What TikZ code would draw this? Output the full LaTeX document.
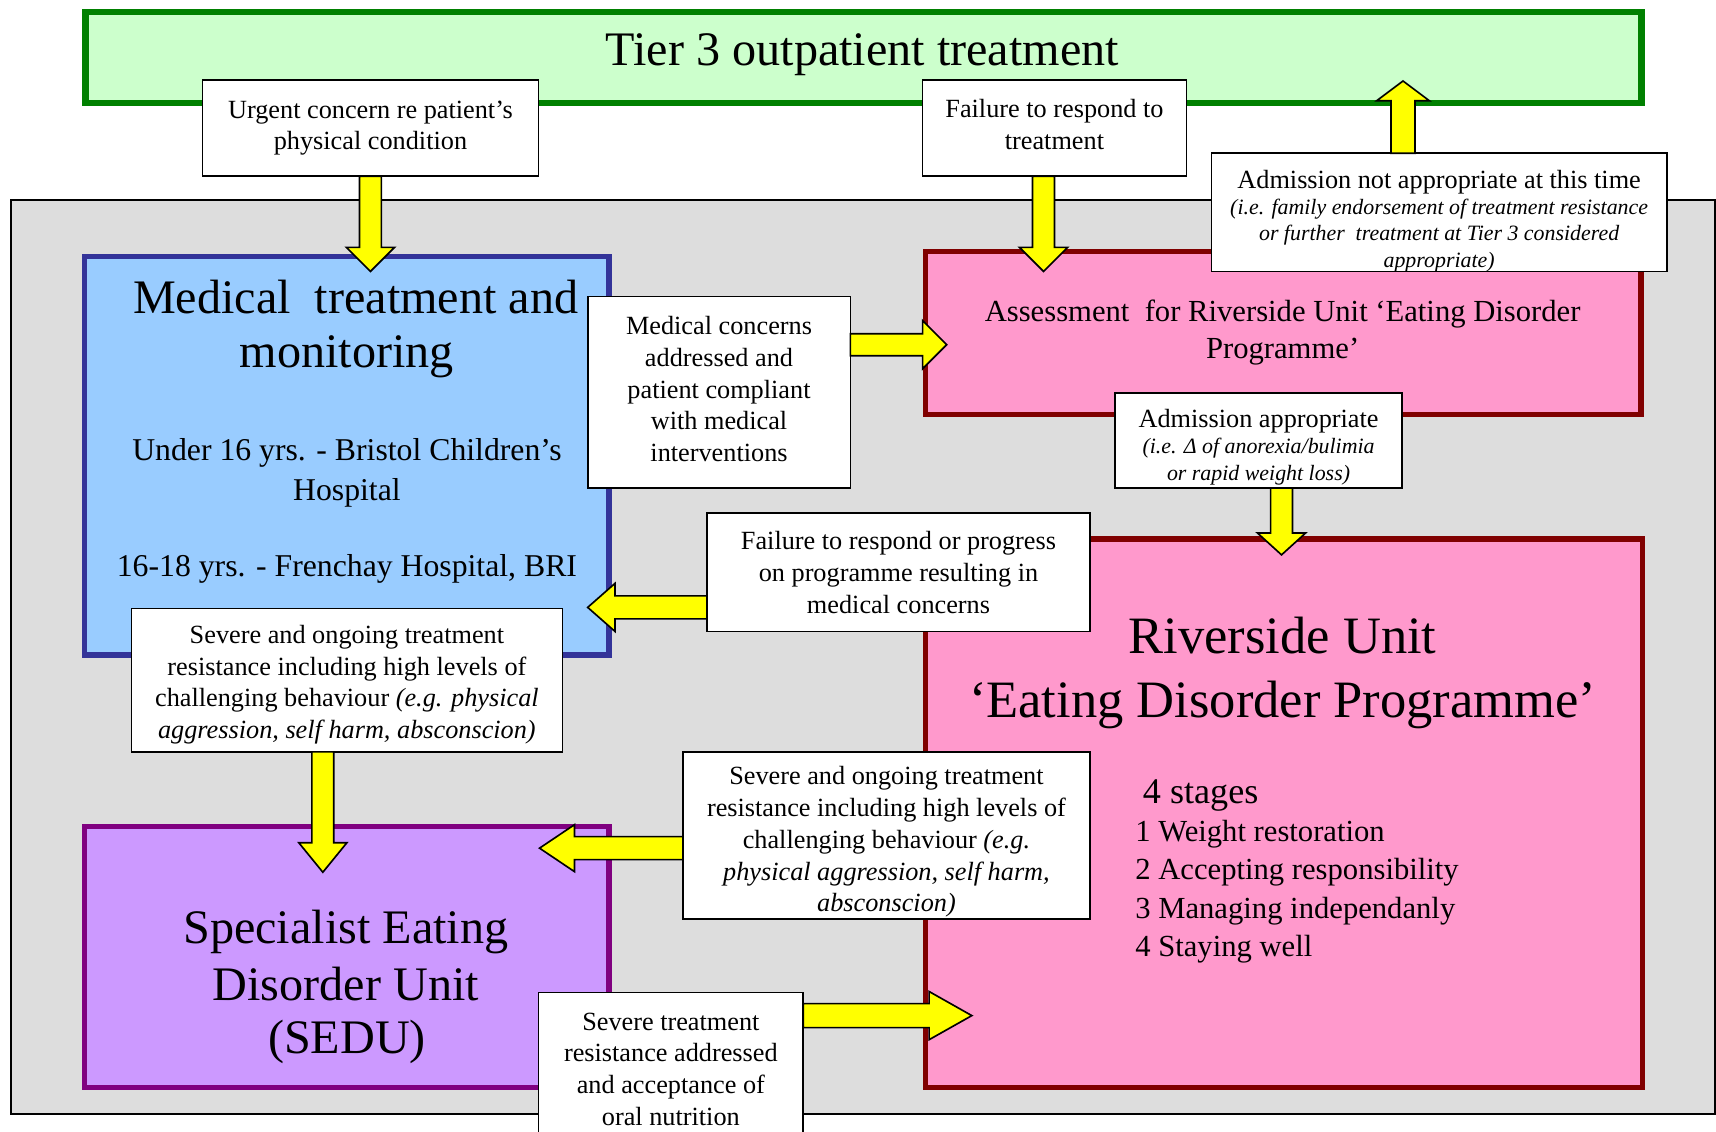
\documentclass[tikz,border=0pt]{standalone}
\usepackage{fontspec}
\setmainfont{Liberation Serif}
\usetikzlibrary{fit,calc}
\definecolor{tiergreen}{HTML}{CCFFCC}
\definecolor{tierborder}{HTML}{008000}
\definecolor{bggray}{HTML}{DDDDDD}
\definecolor{medblue}{HTML}{99CCFF}
\definecolor{medborder}{HTML}{333399}
\definecolor{rpink}{HTML}{FF99CC}
\definecolor{rborder}{HTML}{800000}
\definecolor{spurple}{HTML}{CC99FF}
\definecolor{sborder}{HTML}{800080}
\definecolor{ayellow}{HTML}{FFFF00}
\newcommand\fs[2]{\fontsize{#1}{#2}\selectfont}
\newcommand\itl{\fontsize{10}{12}\selectfont\itshape}
\newcommand\blockarrow[6]{% start, rotation, length, shaft half, head half, head length
  \begin{scope}[shift={#1},rotate=#2]
    \draw[yarrow] (0,-#4) -- ({#3-#6},-#4) -- ({#3-#6},-#5) -- (#3,0) -- ({#3-#6},#5) -- ({#3-#6},#4) -- (0,#4) -- cycle;
  \end{scope}}
\begin{document}
\begin{tikzpicture}[x=0.5pt,y=-0.5pt,
  bigbox/.style={inner sep=0pt, outer sep=0pt, line width=2.4pt},
  wbox/.style={draw=black, fill=white, line width=0.75pt, inner sep=0pt, outer sep=0pt},
  wtext/.style={inner sep=0pt, align=center, font=\fs{12}{14.5}},
  yarrow/.style={draw=black, fill=ayellow, line width=0.75pt, line join=miter},
  ttl/.style={anchor=base, inner sep=0pt, font=\fs{22}{26}},
  mid/.style={anchor=base, inner sep=0pt, font=\fs{14.5}{17}},
  big/.style={anchor=base, inner sep=0pt, font=\fs{24}{30}},
  stg/.style={anchor=base west, inner sep=0pt, font=\fs{14}{17}}]
\useasboundingbox (0,0) rectangle (1568,1034);
% background panels
\node[fit={(78,11) (1500,94)}, bigbox, line width=3pt, draw=tierborder, fill=tiergreen] (tier) {};
\node[ttl] (tiert) at (788,60) {Tier 3 outpatient treatment};
\node[fit={(10,183) (1567,1018)}, inner sep=0pt, draw=black, line width=0.75pt, fill=bggray] (bg) {};
% medical
\node[fit={(77.5,234.5) (556.5,598.5)}, bigbox, draw=medborder, fill=medblue] (med) {};
\node[ttl] (medt1) at (325,286) {Medical\ \ treatment and};
\node[ttl] (medt2) at (317,336) {monitoring};
\node[mid] (medt3) at (317,421) {Under 16 yrs. - Bristol Children’s};
\node[mid] (medt4) at (317,457) {Hospital};
\node[mid] (medt5) at (317,527) {16-18 yrs. - Frenchay Hospital, BRI};
% assessment
\node[fit={(845.5,229.5) (1499.5,378.5)}, bigbox, draw=rborder, fill=rpink] (assess) {};
\node[anchor=base, inner sep=0pt, font=\fs{14}{17}] (asst1) at (1172,294) {Assessment\ \ for Riverside Unit ‘Eating Disorder};
\node[anchor=base, inner sep=0pt, font=\fs{14}{17}] (asst2) at (1172,328) {Programme’};
% riverside
\node[fit={(845.5,492.5) (1500.5,993.5)}, bigbox, draw=rborder, fill=rpink] (river) {};
\node[big] (rivt1) at (1172,597) {Riverside Unit};
\node[big] (rivt2) at (1172,656) {‘Eating Disorder Programme’};
\node[anchor=base west, inner sep=0pt, font=\fs{16.5}{19}] (stg0) at (1044,734) {4 stages};
\node[stg] (stg1) at (1037,769) {1 Weight restoration};
\node[stg] (stg2) at (1037,804) {2 Accepting responsibility};
\node[stg] (stg3) at (1037,839) {3 Managing independanly};
\node[stg] (stg4) at (1037,874) {4 Staying well};
% sedu
\node[fit={(77.5,755.5) (556.5,993.5)}, bigbox, draw=sborder, fill=spurple] (sedu) {};
\node[ttl] (sedut1) at (316,862) {Specialist Eating};
\node[ttl] (sedut2) at (316,914) {Disorder Unit};
\node[ttl] (sedut3) at (317,963) {(SEDU)};
% white label boxes
\node[wbox, fit={(185,73) (492,161)}] (urg) {};
\node[wtext] (urgt) at (urg.center) {Urgent concern re patient’s\\ physical condition};
\node[wbox, fit={(843,73) (1084,161)}] (fail) {};
\node[wtext] (failt) at ($(fail.center)+(0,-3)$) {Failure to respond to\\ treatment};
\node[wbox, fit={(1107,140) (1523,248)}] (admnot) {};
\node[wtext] (admnott) at ($(admnot.center)+(0,8)$) {Admission not appropriate at this time\\[-2.5pt]
  {\itl (i.e. family endorsement of treatment resistance}\\[-2.5pt]
  {\itl or further\ \ treatment at Tier 3 considered}\\[-2.5pt]
  {\itl appropriate)}};
\node[wbox, fit={(537,271) (777,446)}] (medc) {};
\node[wtext] (medct) at ($(medc.center)+(0,-3)$) {Medical concerns\\ addressed and\\ patient compliant\\ with medical\\ interventions};
\node[wbox, fit={(1019,359) (1281,446)}] (admapp) {};
\node[wtext] (admappt) at ($(admapp.center)+(0,6)$) {Admission appropriate\\[-2.5pt]
  {\itl (i.e. Δ of anorexia/bulimia}\\[-2.5pt]
  {\itl or rapid weight loss)}};
\node[wbox, fit={(646,469) (996,577)}] (failp) {};
\node[wtext] (failpt) at (failp.center) {Failure to respond or progress\\ on programme resulting in\\ medical concerns};
\node[wbox, fit={(120,556) (514,687)}] (sevl) {};
\node[wtext] (sevlt) at ($(sevl.center)+(0,4)$) {Severe and ongoing treatment\\ resistance including high levels of\\ challenging behaviour \textit{(e.g. physical}\\ \textit{aggression, self harm, absconscion)}};
\node[wbox, fit={(624,687) (996,840)}] (sevr) {};
\node[wtext] (sevrt) at ($(sevr.center)+(0,6)$) {Severe and ongoing treatment\\ resistance including high levels of\\ challenging behaviour \textit{(e.g.}\\ \textit{physical aggression, self harm,}\\ \textit{absconscion)}};
\node[wbox, fit={(492,907) (734,1049)}] (sevaddr) {};
\node[wtext] (sevaddrt) at (613,977) {Severe treatment\\ resistance addressed\\ and acceptance of\\ oral nutrition};
% block arrows
\blockarrow{(urg.south)}{-90}{87}{10}{22}{22}
\blockarrow{($(fail.south)+(-10,0)$)}{-90}{87}{10}{22}{22}
\blockarrow{($(admnot.north)+(-33,0)$)}{90}{66}{11}{24}{18}
\blockarrow{($(medc.east)+(0,-43.5)$)}{0}{88}{10}{22}{22}
\blockarrow{($(admapp.south)+(21,0)$)}{-90}{61}{10}{22}{20}
\blockarrow{($(failp.west)+(0,32)$)}{180}{109}{10.5}{22}{25}
\blockarrow{($(sevl.south)+(-22,0)$)}{-90}{110}{10}{22}{27}
\blockarrow{($(sevr.west)+(0,11.5)$)}{180}{131}{10.5}{21.5}{32}
\blockarrow{($(sevaddr.east)+(0,-50)$)}{0}{154}{11}{22}{39}
\end{tikzpicture}
\end{document}
